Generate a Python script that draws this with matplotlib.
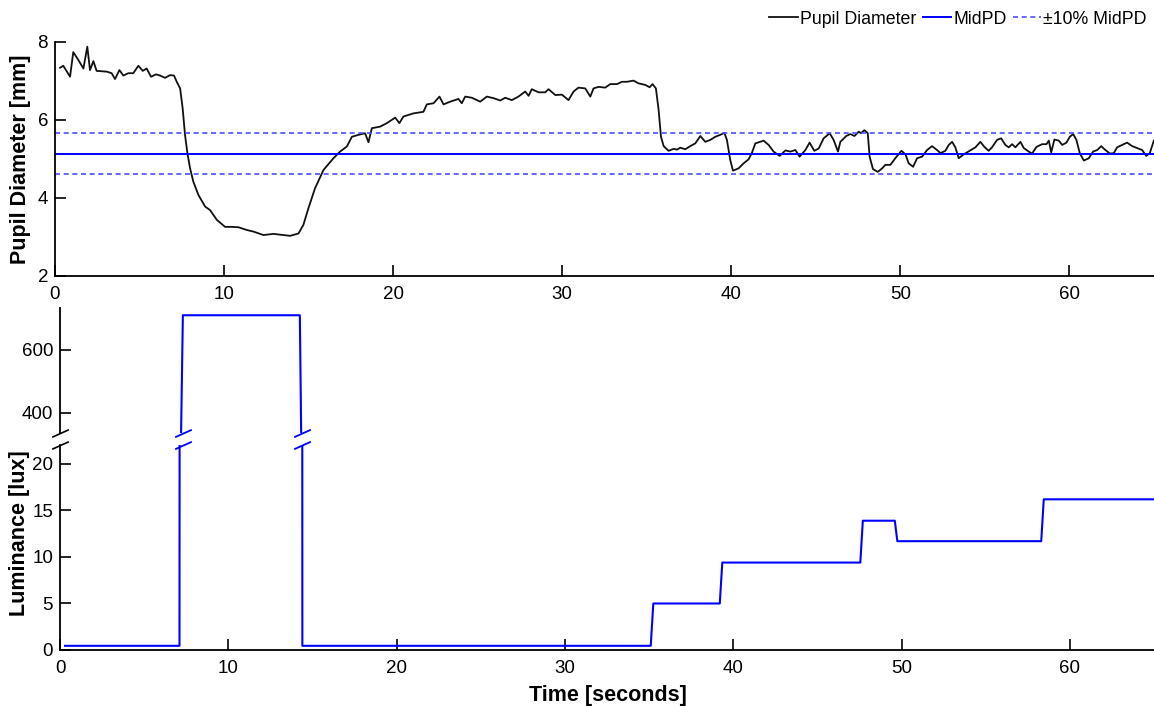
import numpy as np
import matplotlib
matplotlib.use("Agg")
import matplotlib.pyplot as plt
import matplotlib.transforms as mtransforms

plt.rcParams["font.family"] = ["Liberation Sans", "DejaVu Sans"]

# pupil diameter trace (s, mm)
pd_t = [0.30, 0.49, 0.89, 1.08, 1.38, 1.68, 1.91, 2.07, 2.27, 2.46, 3.06, 3.35, 3.55, 3.81,
        4.04, 4.34, 4.63, 4.93, 5.19, 5.42, 5.68, 5.98, 6.21, 6.51, 6.80, 7.04, 7.20, 7.40,
        7.55, 7.69, 7.83, 7.99, 8.18, 8.48, 8.88, 9.17, 9.57, 10.06, 10.45, 10.85, 11.34,
        11.73, 12.33, 12.92, 13.91, 14.40, 14.69, 14.99, 15.38, 15.88, 16.47, 16.86, 17.26,
        17.56, 17.95, 18.34, 18.54, 18.74, 19.23, 19.63, 20.12, 20.37, 20.61, 21.20, 21.79,
        21.99, 22.39, 22.74, 22.98, 23.37, 23.86, 24.06, 24.26, 24.66, 25.15, 25.54, 25.94,
        26.33, 26.63, 27.02, 27.41, 27.81, 28.01, 28.20, 28.60, 28.99, 29.19, 29.59, 29.98,
        30.37, 30.67, 30.96, 31.36, 31.66, 31.85, 32.15, 32.54, 32.84, 33.24, 33.53, 33.83,
        34.22, 34.51, 34.91, 35.17, 35.34, 35.54, 35.70, 35.84, 36.00, 36.29, 36.59, 36.79,
        36.98, 37.28, 37.57, 37.87, 38.17, 38.46, 38.76, 39.05, 39.35, 39.59, 39.74, 39.94,
        40.10, 40.43, 40.73, 41.02, 41.22, 41.42, 41.91, 42.21, 42.50, 42.86, 43.20, 43.49,
        43.79, 44.04, 44.38, 44.63, 44.91, 45.17, 45.46, 45.82, 46.05, 46.31, 46.45, 46.80,
        47.04, 47.28, 47.54, 47.67, 47.87, 48.07, 48.18, 48.38, 48.66, 48.92, 49.11, 49.41,
        49.70, 50.06, 50.30, 50.49, 50.75, 50.99, 51.28, 51.58, 51.87, 52.17, 52.37, 52.66,
        52.86, 53.06, 53.25, 53.45, 53.75, 54.24, 54.44, 54.73, 54.97, 55.22, 55.42, 55.72,
        55.96, 56.21, 56.41, 56.61, 56.80, 57.10, 57.30, 57.59, 57.79, 58.05, 58.38, 58.64,
        58.78, 58.92, 59.11, 59.37, 59.57, 59.82, 60.02, 60.22, 60.41, 60.61, 60.85, 61.14,
        61.40, 61.64, 61.88, 62.07, 62.39, 62.62, 62.82, 63.12, 63.41, 63.71, 64.00, 64.30,
        64.54, 64.75, 64.99]
pd_v = [7.34, 7.39, 7.11, 7.74, 7.54, 7.32, 7.88, 7.28, 7.51, 7.26, 7.24, 7.20, 7.05, 7.28,
        7.14, 7.20, 7.20, 7.39, 7.26, 7.32, 7.11, 7.17, 7.14, 7.08, 7.15, 7.14, 6.98, 6.81,
        6.30, 5.62, 5.15, 4.76, 4.42, 4.08, 3.78, 3.69, 3.44, 3.26, 3.26, 3.25, 3.18,
        3.14, 3.05, 3.08, 3.03, 3.09, 3.31, 3.74, 4.25, 4.72, 5.02, 5.19, 5.32,
        5.57, 5.62, 5.66, 5.43, 5.79, 5.83, 5.92, 6.06, 5.92, 6.09, 6.17, 6.21,
        6.40, 6.43, 6.60, 6.40, 6.47, 6.54, 6.43, 6.60, 6.57, 6.47, 6.60, 6.56,
        6.50, 6.57, 6.51, 6.60, 6.73, 6.62, 6.79, 6.71, 6.71, 6.79, 6.64, 6.65,
        6.51, 6.73, 6.83, 6.81, 6.60, 6.81, 6.85, 6.83, 6.92, 6.92, 6.98, 6.98,
        7.01, 6.94, 6.90, 6.84, 6.92, 6.81, 6.26, 5.57, 5.33, 5.21, 5.26, 5.24,
        5.29, 5.25, 5.33, 5.40, 5.59, 5.44, 5.49, 5.57, 5.62, 5.67, 5.49, 4.97,
        4.70, 4.76, 4.89, 4.99, 5.16, 5.40, 5.47, 5.36, 5.19, 5.08, 5.22, 5.19,
        5.23, 5.06, 5.23, 5.42, 5.21, 5.27, 5.53, 5.66, 5.49, 5.19, 5.44, 5.59,
        5.64, 5.59, 5.70, 5.66, 5.74, 5.66, 5.06, 4.74, 4.67, 4.76, 4.85, 4.85,
        5.02, 5.21, 5.12, 4.89, 4.80, 5.02, 5.06, 5.23, 5.33, 5.23, 5.15, 5.21,
        5.36, 5.44, 5.30, 5.02, 5.12, 5.25, 5.30, 5.44, 5.31, 5.21, 5.30, 5.49,
        5.53, 5.36, 5.30, 5.38, 5.30, 5.44, 5.28, 5.19, 5.14, 5.31, 5.38, 5.38,
        5.47, 5.17, 5.50, 5.47, 5.36, 5.42, 5.57, 5.64, 5.49, 5.15, 4.96, 5.02,
        5.19, 5.23, 5.33, 5.25, 5.14, 5.15, 5.30, 5.36, 5.42, 5.33, 5.28, 5.23,
        5.08, 5.15, 5.47]
mid_pd = 5.14

# luminance stimulus (s, lux)
lux_t = [0.3, 7.1, 7.3, 14.25, 14.4, 35.1, 35.25, 39.2, 39.35, 47.55, 47.7, 49.6, 49.75,
         58.3, 58.45, 65.0]
lux_v = [0.45, 0.45, 710, 710, 0.45, 0.45, 5.0, 5.0, 9.4, 9.4, 13.9, 13.9, 11.7, 11.7,
         16.2, 16.2]

W, H = 1154, 706
fig = plt.figure(figsize=(W / 100, H / 100), dpi=100)


def box(l, t, r, b):
    return [l / W, 1 - b / H, (r - l) / W, (b - t) / H]


ax1 = fig.add_axes(box(55, 42, 1154, 276))
ax_hi = fig.add_axes(box(60, 308, 1154, 433))
ax_lo = fig.add_axes(box(60, 445, 1154, 650))

blue = "#0000ff"
l1, = ax1.plot(pd_t, pd_v, color="#111111", lw=1.3, label="Pupil Diameter")
l2 = ax1.axhline(mid_pd, color=blue, lw=1.4, label="MidPD")
l3 = ax1.axhline(mid_pd * 1.1, color="#4d4dff", lw=1.2, dashes=(3, 2.2), label="\u00b110% MidPD")
ax1.axhline(mid_pd * 0.9, color="#4d4dff", lw=1.2, dashes=(3, 2.2))
ax1.set_ylim(2, 8)
ax1.set_yticks([2, 4, 6, 8])

for ax in (ax_hi, ax_lo):
    ax.plot(lux_t, lux_v, color=blue, lw=1.5)
ax_hi.set_ylim(336, 733)
ax_hi.set_yticks([400, 600])
ax_lo.set_ylim(0, 22.04)
ax_lo.set_yticks([0, 5, 10, 15, 20])

for ax in (ax1, ax_hi, ax_lo):
    ax.set_xlim(0, 65)
    ax.set_xticks(range(0, 61, 10))
    for s in ("top", "right"):
        ax.spines[s].set_visible(False)
    for s in ("left", "bottom"):
        ax.spines[s].set_linewidth(1.3)
    ax.tick_params(direction="in", length=8, width=1.2, labelsize=13.5)
    ax.tick_params(axis="x", pad=7)
    ax.tick_params(axis="y", pad=5)
    ax.patch.set_alpha(0)

ax_hi.spines["bottom"].set_visible(False)
ax_hi.tick_params(axis="x", bottom=False, labelbottom=False)

# break marks on the axis and on the stimulus line
slash = [(-1, -0.45), (1, 0.45)]
edges = [lux_t[i] for i in range(1, len(lux_v)) if abs(lux_v[i] - lux_v[i - 1]) > 100]
for ax, yy in ((ax_hi, 0), (ax_lo, 1)):
    tr = mtransforms.blended_transform_factory(ax.transData, ax.transAxes)
    ax.plot([0], [yy], marker=slash, ms=12, mew=1.2, color="black",
            transform=ax.transAxes, clip_on=False, ls="none")
    ax.plot(edges, [yy] * len(edges), marker=slash, ms=12, mew=1.3, color=blue,
            transform=tr, clip_on=False, ls="none")

fig.text(21 / W, 1 - 159 / H, "Pupil Diameter [mm]", rotation=90, ha="center",
         va="center", fontsize=15.5, fontweight="bold")
fig.text(20 / W, 1 - 533 / H, "Luminance [lux]", rotation=90, ha="center",
         va="center", fontsize=15.5, fontweight="bold")
fig.text(608 / W, 1 - 695 / H, "Time [seconds]", ha="center", va="center",
         fontsize=15.5, fontweight="bold")

fig.legend(handles=[l1, l2, l3], loc="upper right", bbox_to_anchor=(1.0, 0.995), ncol=3,
           frameon=False, fontsize=12.8, handlelength=1.6, handletextpad=0.12,
           columnspacing=0.35, borderaxespad=0.0)

fig.savefig("out.png", dpi=100)
